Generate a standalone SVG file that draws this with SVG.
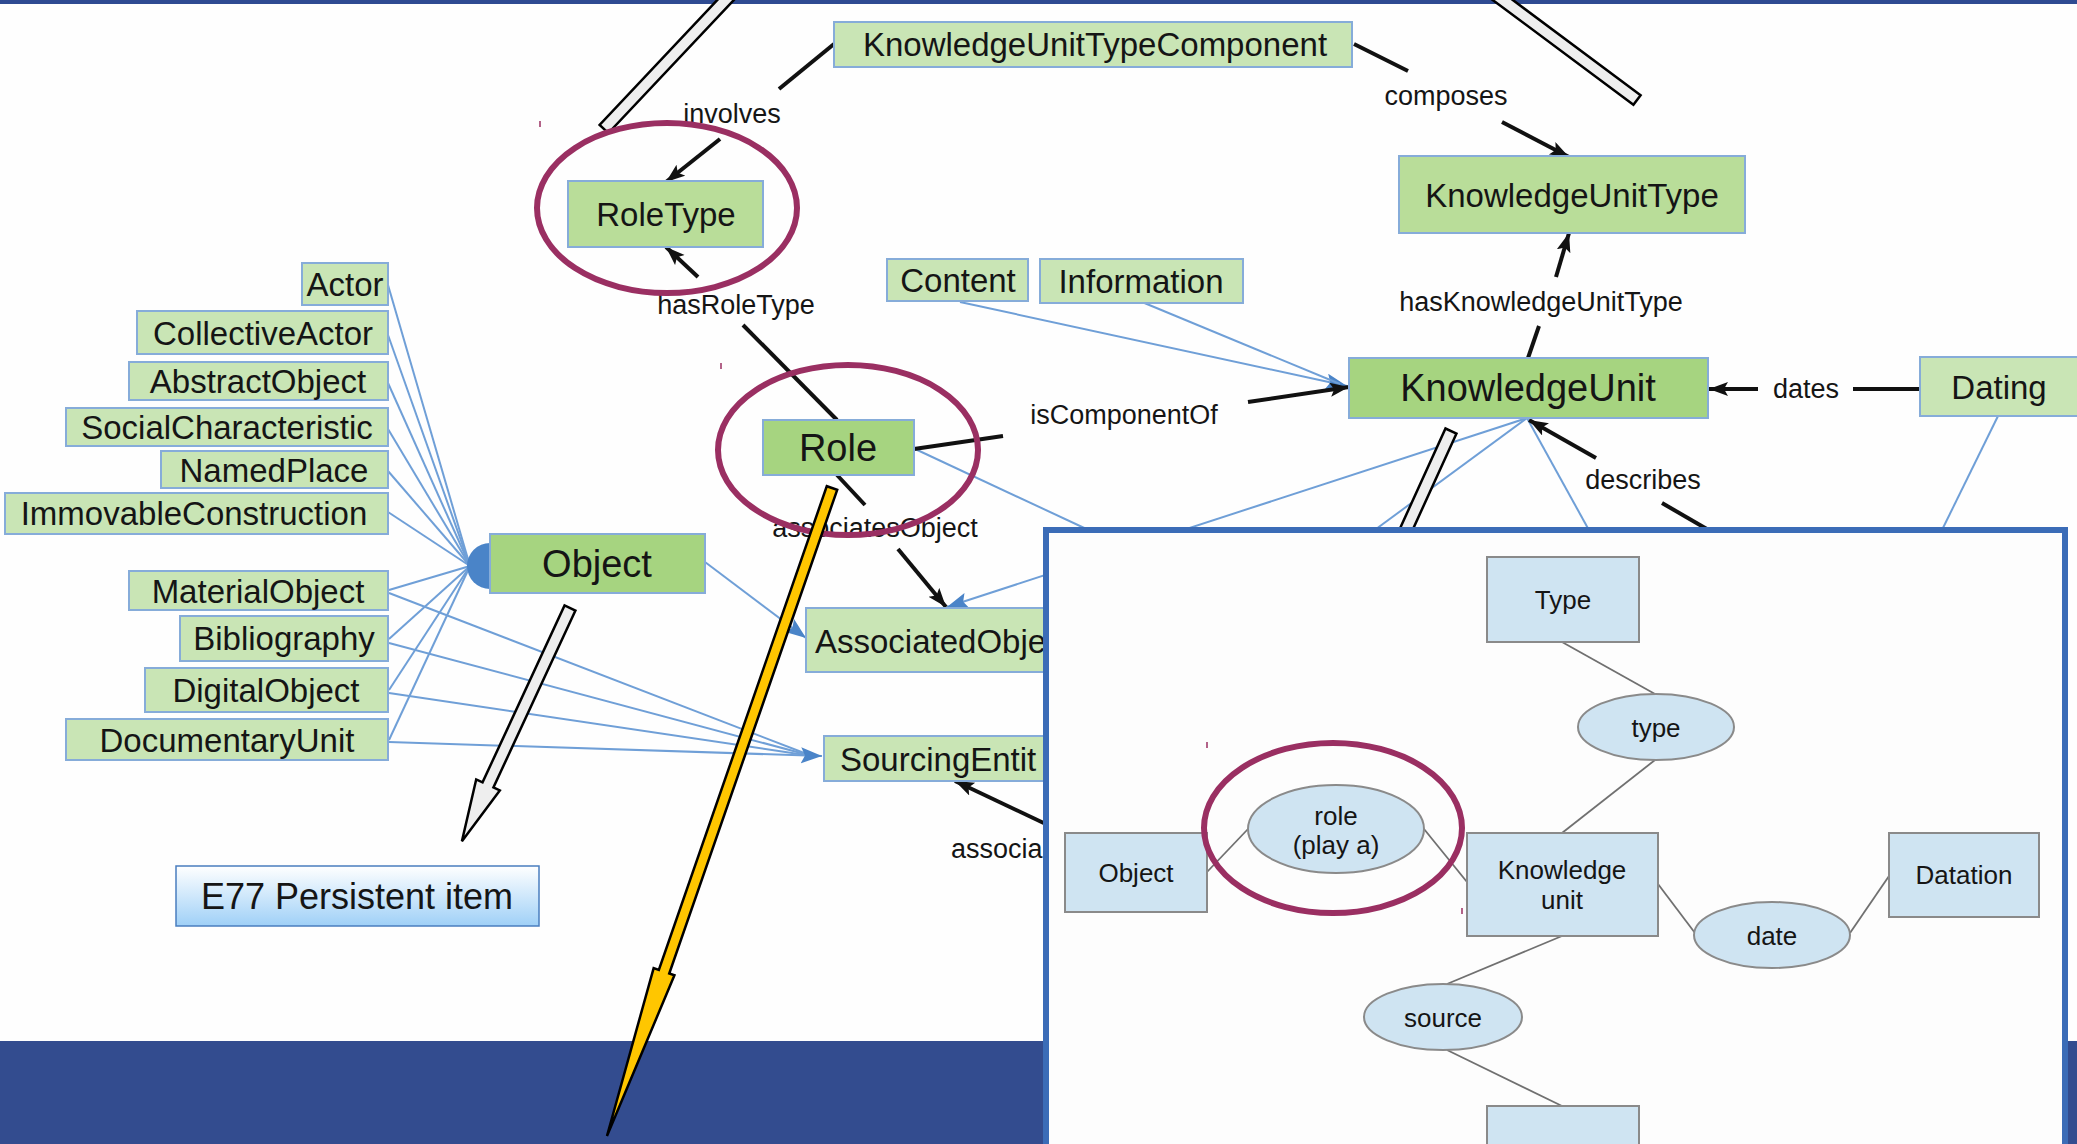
<svg xmlns="http://www.w3.org/2000/svg" width="2077" height="1144" viewBox="0 0 2077 1144">
<style>
text{font-family:"Liberation Sans",Arial,sans-serif;fill:#151515;text-anchor:middle;dominant-baseline:central}
.lt{fill:#c9e5b5;stroke:#86acd9;stroke-width:2}
.md{fill:#b9dd99;stroke:#86acd9;stroke-width:2}
.dk{fill:#a6d480;stroke:#86acd9;stroke-width:2}
.nl{font-size:33px}
.nd{font-size:38px}
.el{font-size:27px}
.bl{stroke:#6f9fd7;stroke-width:2;fill:none}
.bk{stroke:#111;stroke-width:4;fill:none}
.circ{fill:none;stroke:#9a2f62;stroke-width:6}
.wb{fill:#eeeeee;stroke:#000;stroke-width:2.5}
.is{fill:#cfe4f2;stroke:#8a8a8a;stroke-width:2}
.il{stroke:#707070;stroke-width:1.8;fill:none}
.it{font-size:26px}
</style>
<defs>
<marker id="ak" markerUnits="userSpaceOnUse" markerWidth="20" markerHeight="16" refX="19" refY="7" orient="auto">
<path d="M0,0 L19,7 L0,14 L4,7 z" fill="#111"/>
</marker>
<marker id="ab" markerUnits="userSpaceOnUse" markerWidth="22" markerHeight="18" refX="21" refY="8" orient="auto">
<path d="M0,0 L21,8 L0,16 L4,8 z" fill="#4a84c8"/>
</marker>
<linearGradient id="e77" x1="0" y1="0" x2="0" y2="1">
<stop offset="0" stop-color="#ffffff"/>
<stop offset="1" stop-color="#9fd0f7"/>
</linearGradient>
</defs>
<rect x="0" y="0" width="2077" height="1144" fill="#fefefe"/>
<rect x="0" y="0" width="2077" height="4" fill="#2f4b92"/>
<rect x="0" y="1041" width="2077" height="103" fill="#334c8f"/>

<g id="connectors">
<g class="bl">
<line x1="388" y1="285" x2="470" y2="566"/>
<line x1="388" y1="335" x2="470" y2="566"/>
<line x1="388" y1="383" x2="470" y2="566"/>
<line x1="388" y1="429" x2="470" y2="566"/>
<line x1="388" y1="471" x2="470" y2="566"/>
<line x1="388" y1="512" x2="470" y2="566"/>
<line x1="389" y1="590" x2="470" y2="566"/>
<line x1="389" y1="639" x2="470" y2="566"/>
<line x1="389" y1="690" x2="470" y2="566"/>
<line x1="389" y1="740" x2="470" y2="566"/>
<line x1="389" y1="593" x2="812" y2="756"/>
<line x1="389" y1="643" x2="812" y2="756"/>
<line x1="389" y1="693" x2="812" y2="756"/>
<line x1="389" y1="742" x2="822" y2="756" marker-end="url(#ab)"/>
<line x1="705" y1="562" x2="806" y2="638" marker-end="url(#ab)"/>
<line x1="1527" y1="418" x2="947" y2="607" marker-end="url(#ab)"/>
<line x1="960" y1="302" x2="1347" y2="386" marker-end="url(#ab)"/>
<line x1="1142" y1="302" x2="1340" y2="384"/>
<line x1="1527" y1="418" x2="1372" y2="532"/>
<line x1="1527" y1="418" x2="1590" y2="532"/>
<line x1="913" y1="448" x2="1095" y2="533"/>
<line x1="1998" y1="416" x2="1941" y2="532"/>
</g>
<path d="M490,543 A23,23 0 0,0 490,589 Z" fill="#4a84c8"/>
<g class="bk">
<line x1="834" y1="44" x2="779" y2="89"/>
<line x1="720" y1="139" x2="666" y2="182" marker-end="url(#ak)"/>
<line x1="837" y1="420" x2="743" y2="325"/>
<line x1="698" y1="277" x2="666" y2="247" marker-end="url(#ak)"/>
<line x1="1354" y1="44" x2="1408" y2="71"/>
<line x1="1502" y1="122" x2="1569" y2="157" marker-end="url(#ak)"/>
<line x1="1528" y1="358" x2="1539" y2="326"/>
<line x1="1556" y1="277" x2="1569" y2="233" marker-end="url(#ak)"/>
<line x1="914" y1="449" x2="1003" y2="436"/>
<line x1="1248" y1="402" x2="1349" y2="387" marker-end="url(#ak)"/>
<line x1="1920" y1="389" x2="1853" y2="389"/>
<line x1="1758" y1="389" x2="1709" y2="389" marker-end="url(#ak)"/>
<line x1="1712" y1="532" x2="1662" y2="503"/>
<line x1="1596" y1="458" x2="1529" y2="420" marker-end="url(#ak)"/>
<line x1="837" y1="475" x2="865" y2="505"/>
<line x1="898" y1="549" x2="946" y2="607" marker-end="url(#ak)"/>
<line x1="1050" y1="826" x2="955" y2="781" marker-end="url(#ak)"/>
</g>
</g>

<g id="n-kutc"><rect class="lt" x="834" y="22" width="518" height="45"/><text class="nl" x="1095" y="44">KnowledgeUnitTypeComponent</text></g>
<g id="n-roletype"><rect class="md" x="568" y="181" width="195" height="66"/><text class="nl" x="666" y="214">RoleType</text></g>
<g id="n-kut"><rect class="md" x="1399" y="156" width="346" height="77"/><text class="nl" x="1572" y="195">KnowledgeUnitType</text></g>
<g id="n-content"><rect class="lt" x="887" y="259" width="141" height="42"/><text class="nl" x="958" y="280">Content</text></g>
<g id="n-information"><rect class="lt" x="1040" y="259" width="203" height="44"/><text class="nl" x="1141" y="281">Information</text></g>
<g id="n-ku"><rect class="dk" x="1349" y="358" width="359" height="60"/><text class="nd" x="1528" y="388">KnowledgeUnit</text></g>
<g id="n-dating"><rect class="lt" x="1920" y="357" width="170" height="59"/><text class="nl" x="1999" y="387">Dating</text></g>
<g id="n-actor"><rect class="lt" x="302" y="263" width="86" height="42"/><text class="nl" x="345" y="284">Actor</text></g>
<g id="n-collectiveactor"><rect class="lt" x="137" y="311" width="251" height="43"/><text class="nl" x="263" y="333">CollectiveActor</text></g>
<g id="n-abstractobject"><rect class="lt" x="129" y="362" width="259" height="38"/><text class="nl" x="258" y="381">AbstractObject</text></g>
<g id="n-socialcharacteristic"><rect class="lt" x="66" y="408" width="322" height="38"/><text class="nl" x="227" y="427">SocialCharacteristic</text></g>
<g id="n-namedplace"><rect class="lt" x="161" y="451" width="227" height="37"/><text class="nl" x="274" y="470">NamedPlace</text></g>
<g id="n-immovableconstruction"><rect class="lt" x="5" y="493" width="383" height="41"/><text class="nl" x="194" y="513">ImmovableConstruction</text></g>
<g id="n-object"><rect class="dk" x="490" y="534" width="215" height="59"/><text class="nd" x="597" y="564">Object</text></g>
<g id="n-materialobject"><rect class="lt" x="129" y="571" width="259" height="39"/><text class="nl" x="258" y="591">MaterialObject</text></g>
<g id="n-bibliography"><rect class="lt" x="180" y="616" width="208" height="45"/><text class="nl" x="284" y="638">Bibliography</text></g>
<g id="n-digitalobject"><rect class="lt" x="145" y="668" width="243" height="44"/><text class="nl" x="266" y="690">DigitalObject</text></g>
<g id="n-documentaryunit"><rect class="lt" x="66" y="719" width="322" height="41"/><text class="nl" x="227" y="740">DocumentaryUnit</text></g>
<g id="n-associatedobject"><rect class="lt" x="806" y="608" width="240" height="64"/><text class="nl" x="815" y="641" style="text-anchor:start">AssociatedObje</text></g>
<g id="n-sourcingentity"><rect class="lt" x="824" y="736" width="222" height="45"/><text class="nl" x="840" y="759" style="text-anchor:start">SourcingEntit</text></g>
<g id="n-role"><rect class="dk" x="763" y="420" width="151" height="55"/><text class="nd" x="838" y="448">Role</text></g>
<g id="n-e77"><rect x="176" y="866" width="363" height="60" fill="url(#e77)" stroke="#4a7ebf" stroke-width="1.5"/><text x="357" y="896" style="font-size:36px">E77 Persistent item</text></g>

<g id="edge-labels">
<text class="el" x="732" y="114">involves</text>
<text class="el" x="736" y="305">hasRoleType</text>
<text class="el" x="1446" y="96">composes</text>
<text class="el" x="1541" y="302">hasKnowledgeUnitType</text>
<text class="el" x="1124" y="415">isComponentOf</text>
<text class="el" x="1806" y="389">dates</text>
<text class="el" x="1643" y="480">describes</text>
<text class="el" x="875" y="528">associatesObject</text>
<text class="el" x="951" y="849" style="text-anchor:start">associa</text>
</g>

<g id="callouts">
<polygon class="wb" points="739.4,-5.9 608.4,133.1 599.6,124.9 730.6,-14.1"/>
<polygon class="wb" points="1488.4,-3.2 1633.4,104.8 1640.6,95.2 1495.6,-12.8"/>
<polygon class="wb" points="1456.5,433.5 1395.5,567.5 1384.5,562.5 1445.5,428.5"/>
<ellipse class="circ" cx="667" cy="208" rx="130" ry="85"/>
<ellipse class="circ" cx="848" cy="450" rx="130" ry="85"/>
<g transform="translate(570,608) rotate(114.87)">
<polygon class="wb" points="0,-6 195,-6 195,-13 257,0 195,13 195,6 0,6"/>
</g>
<g transform="translate(832,488) rotate(109.15)">
<polygon points="0,-5.5 512,-5.5 512,-11 686,0 512,11 512,5.5 0,5.5" fill="#ffc600" stroke="#000" stroke-width="2.5" stroke-linejoin="miter"/>
</g>
<g stroke="#9a2f62" stroke-width="1.5">
<line x1="540" y1="121" x2="540" y2="127"/>
<line x1="721" y1="363" x2="721" y2="369"/>
</g>
</g>

<g id="inset">
<rect x="1046" y="530" width="1019" height="640" fill="#fdfdfd" stroke="#3b6cb7" stroke-width="6"/>
<g class="il">
<line x1="1562" y1="642" x2="1655" y2="694"/>
<line x1="1655" y1="760" x2="1562" y2="833"/>
<line x1="1207" y1="872" x2="1248" y2="829"/>
<line x1="1424" y1="829" x2="1467" y2="882"/>
<line x1="1658" y1="884" x2="1695" y2="933"/>
<line x1="1850" y1="933" x2="1889" y2="876"/>
<line x1="1562" y1="936" x2="1447" y2="984"/>
<line x1="1447" y1="1050" x2="1562" y2="1106"/>
</g>
<g id="i-type-rect"><rect class="is" x="1487" y="557" width="152" height="85"/><text class="it" x="1563" y="600">Type</text></g>
<g id="i-type"><ellipse class="is" cx="1656" cy="727" rx="78" ry="33"/><text class="it" x="1656" y="728">type</text></g>
<g id="i-role"><ellipse class="is" cx="1336" cy="829" rx="88" ry="44"/><text class="it" x="1336" y="816">role</text><text class="it" x="1336" y="845">(play a)</text></g>
<g id="i-object"><rect class="is" x="1065" y="833" width="142" height="79"/><text class="it" x="1136" y="873">Object</text></g>
<g id="i-ku"><rect class="is" x="1467" y="833" width="191" height="103"/><text class="it" x="1562" y="870">Knowledge</text><text class="it" x="1562" y="900">unit</text></g>
<g id="i-datation"><rect class="is" x="1889" y="833" width="150" height="84"/><text class="it" x="1964" y="875">Datation</text></g>
<g id="i-date"><ellipse class="is" cx="1772" cy="935" rx="78" ry="33"/><text class="it" x="1772" y="936">date</text></g>
<g id="i-source"><ellipse class="is" cx="1443" cy="1017" rx="79" ry="33"/><text class="it" x="1443" y="1018">source</text></g>
<g id="i-bottom"><rect class="is" x="1487" y="1106" width="152" height="60"/></g>
<ellipse class="circ" cx="1333" cy="828" rx="129" ry="85"/>
<g stroke="#9a2f62" stroke-width="1.5">
<line x1="1207" y1="742" x2="1207" y2="748"/>
<line x1="1462" y1="908" x2="1462" y2="914"/>
</g>
</g>
</svg>
